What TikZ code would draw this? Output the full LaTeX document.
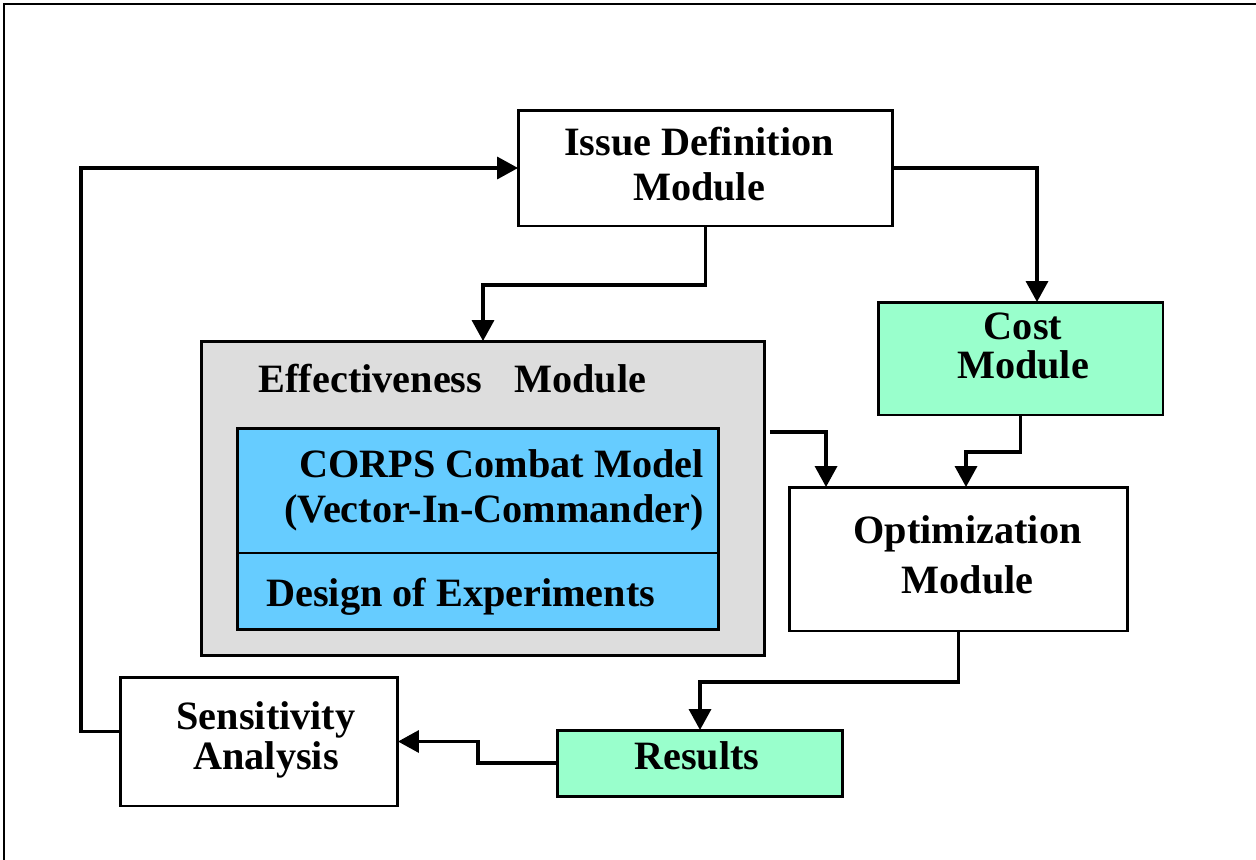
\documentclass[tikz,border=0pt]{standalone}
\usepackage{fontspec}
\setmainfont{Liberation Serif}
\usetikzlibrary{arrows.meta,positioning}

\definecolor{costgreen}{HTML}{99FFCC}
\definecolor{corpsblue}{HTML}{66CCFF}
\definecolor{effgray}{HTML}{DDDDDD}

\tikzset{
  module/.style={draw, line width=1.7pt, fill=white, inner sep=0pt, outer sep=0pt},
  txt/.style={inner sep=0pt, align=center,
    font=\fontsize{22.9}{25.6}\selectfont\bfseries},
  flow/.style={line width=2pt, -{Triangle[length=0.42cm,width=0.44cm]}},
}

\begin{document}
\begin{tikzpicture}[x=0.02cm, y=-0.02cm]
  \useasboundingbox (0,0) rectangle (1256,859);
  \clip (0,0) rectangle (1256,859);
  % frame
  \draw[line width=1.5pt] (4,4) rectangle (1300,900);

  % modules
  \node[module, minimum width=7.5cm, minimum height=2.32cm] (issue) at (705.5,168) {}; %
  \node[txt] (issue-text) at (699,164) {Issue Definition\\Module}; %

  \node[module, fill=costgreen, minimum width=5.7cm, minimum height=2.26cm] (cost) at (1020.5,358.5) {}; %
  \node[txt] (cost-text) at (1023,346) {Cost\\[-3.4pt]Module}; %

  \node[module, minimum width=6.78cm, minimum height=2.88cm] (opt) at (958.5,559) {}; %
  \node[txt] (opt-text) at (967.5,554.5) {Optimization\\[2.8pt]Module}; %

  \node[module, fill=costgreen, minimum width=5.72cm, minimum height=1.32cm] (results) at (700,763) {}; %
  \node[txt] (results-text) at (697,756) {Results}; %

  \node[module, minimum width=5.56cm, minimum height=2.58cm] (sens) at (259,741.5) {}; %
  \node[txt] (sens-text) at (266,739.5) {Sensitivity\\[-2.8pt]Analysis}; %

  % effectiveness module and its parts
  \node[module, fill=effgray, minimum width=11.28cm, minimum height=6.3cm] (eff) at (483,498.5) {}; %
  \node[txt] (eff-text) at ([shift={(-30.5,38)}]eff.north) {Effectiveness\hspace{0.8em}Module}; %
  \node[module, fill=corpsblue, minimum width=9.64cm, minimum height=2.5cm] (corps) at (478,490.5) {}; %
  \node[module, fill=corpsblue, minimum width=9.64cm, minimum height=1.54cm, below=0pt of corps] (doe) {}; %
  \node[txt, align=right, anchor=east] (corps-text) at (704,490.5)
    {CORPS Combat Model\\(Vector-In-Commander)}; %
  \node[txt, anchor=west] (doe-text) at (266,596.5) {Design of Experiments}; %

  % flows
  \draw[flow] (issue.south) -- ++(0,59) -| (eff.north);
  \draw[flow] (issue.east) -| ([xshift=0.33cm]cost.north);
  \draw[flow] (cost.south) -- ++(0,37) -| ([xshift=0.15cm]opt.north);
  \draw[flow] ([shift={(0.1cm,1.33cm)}]eff.east) -| ([xshift=-2.65cm]opt.north);
  \draw[flow] (opt.south) -- ++(0,51) -| (results.north);
  \draw[flow] (results.west) -- ++(-79,0) |- (sens.east);
  \draw[flow] ([yshift=0.2cm]sens.west) -- ++(-39,0) |- (issue.west);
\end{tikzpicture}
\end{document}
